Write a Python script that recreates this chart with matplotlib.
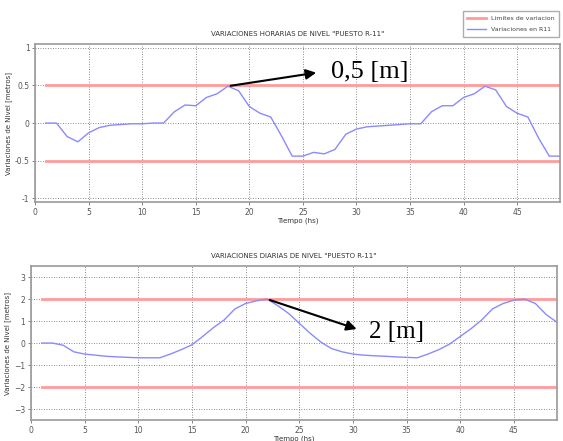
import matplotlib
matplotlib.use('Agg')
import matplotlib.pyplot as plt

# hourly variations (top plot)
horas = list(range(1, 50))
var_horaria = [0, 0, -0.18, -0.25, -0.13, -0.06, -0.03, -0.02, -0.01, -0.01,
               0, 0, 0.15, 0.24, 0.23, 0.34, 0.39, 0.49, 0.43, 0.22,
               0.13, 0.08, -0.17, -0.44, -0.44, -0.39, -0.41, -0.35, -0.15, -0.08,
               -0.05, -0.04, -0.03, -0.02, -0.01, -0.01, 0.15, 0.23, 0.23, 0.34,
               0.39, 0.49, 0.44, 0.22, 0.13, 0.08, -0.2, -0.44, -0.44]
lim_horaria = 0.5

# daily variations (bottom plot)
var_diaria = [0, 0, -0.1, -0.4, -0.5, -0.55, -0.6, -0.63, -0.65, -0.67,
              -0.67, -0.67, -0.5, -0.3, -0.08, 0.3, 0.7, 1.05, 1.55, 1.8,
              1.92, 2.0, 1.7, 1.35, 0.9, 0.45, 0.05, -0.25, -0.4, -0.5,
              -0.55, -0.58, -0.6, -0.63, -0.65, -0.67, -0.5, -0.3, -0.05, 0.3,
              0.65, 1.05, 1.55, 1.8, 1.95, 2.0, 1.8, 1.3, 0.95]
lim_diaria = 2

gris = '#555555'
rojo = '#ff9b9b'
azul = '#8a8aff'

fig = plt.figure(figsize=(5.63, 4.41), dpi=100)
ax1 = fig.add_axes([0.0622, 0.542, 0.9325, 0.358])
ax2 = fig.add_axes([0.055, 0.0476, 0.934, 0.349])

def estilo(ax, yticks, ylim, titulo):
    ax.set_xlim(0, 49)
    ax.set_ylim(*ylim)
    ax.set_xticks(range(0, 50, 5))
    ax.set_yticks(yticks)
    ax.grid(True, linestyle=(0, (1, 2)), color='#666666', linewidth=0.6)
    ax.tick_params(labelsize=5.5, colors=gris, length=2, width=0.5, pad=2)
    for s in ax.spines.values():
        s.set_color('#999999')
        s.set_linewidth(1.2)
    ax.set_title(titulo, fontsize=5, color='#333333', pad=6)
    ax.set_xlabel('Tiempo (hs)', fontsize=5, color='#333333', labelpad=1)
    ax.set_ylabel('Variaciones de Nivel [metros]', fontsize=5, color='#333333', labelpad=2)

# top
ax1.plot([1, 49], [lim_horaria, lim_horaria], color=rojo, lw=2, label='Limites de variacion')
ax1.plot([1, 49], [-lim_horaria, -lim_horaria], color=rojo, lw=2)
ax1.plot(horas, var_horaria, color=azul, lw=1, label='Variaciones en R11')
estilo(ax1, [-1, -0.5, 0, 0.5, 1], (-1.05, 1.05), 'VARIACIONES HORARIAS DE NIVEL "PUESTO R-11"')
ax1.set_yticklabels(['-1', '-0.5', '0', '0.5', '1'])
ax1.annotate('', xy=(26.5, 0.675), xytext=(18, 0.49),
             arrowprops=dict(arrowstyle='-|>', color='black', lw=1.5, mutation_scale=15))
ax1.text(27.6, 0.68, '0,5 [m]', fontsize=19, family='Liberation Serif', va='center')

# bottom
ax2.plot([1, 49], [lim_diaria, lim_diaria], color=rojo, lw=2)
ax2.plot([1, 49], [-lim_diaria, -lim_diaria], color=rojo, lw=2)
ax2.plot(horas, var_diaria, color=azul, lw=1)
estilo(ax2, [-3, -2, -1, 0, 1, 2, 3], (-3.5, 3.5), 'VARIACIONES DIARIAS DE NIVEL "PUESTO R-11"')
ax2.annotate('', xy=(30.6, 0.6), xytext=(22, 2.0),
             arrowprops=dict(arrowstyle='-|>', color='black', lw=1.5, mutation_scale=15))
ax2.text(31.5, 0.5, '2 [m]', fontsize=18, family='Liberation Serif', va='center')

leg = fig.legend(loc='upper right', bbox_to_anchor=(0.998, 0.982), fontsize=4.5,
                 frameon=True, fancybox=False, edgecolor='#999999', handlelength=3.0,
                 labelspacing=1.0, borderpad=0.7, labelcolor='#444444')

fig.savefig('out.png', dpi=100)
